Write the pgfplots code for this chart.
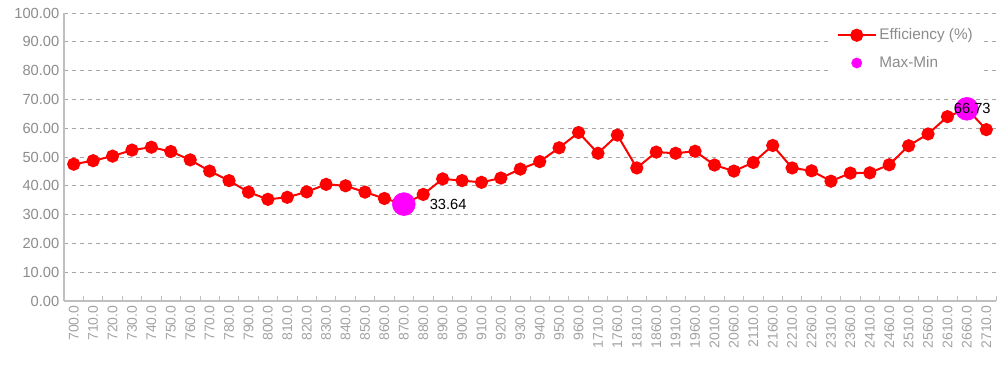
\documentclass[border=0pt]{standalone}
\usepackage{pgfplots}
\pgfplotsset{compat=1.18}
\usepackage{pgfplotstable}
\usepackage{fontspec}
\setmainfont{Liberation Sans}
\definecolor{effred}{HTML}{FF0000}
\definecolor{mm}{HTML}{FF00FF}
\definecolor{tickgray}{HTML}{8C8C8C}
\definecolor{gridgray}{HTML}{A6A6A6}
\definecolor{axgray}{HTML}{BFBFBF}
\pgfplotstableread{
x y
0 47.5
1 48.7
2 50.3
3 52.4
4 53.4
5 51.9
6 49.0
7 45.1
8 41.8
9 37.8
10 35.3
11 36.0
12 37.9
13 40.5
14 40.0
15 37.8
16 35.6
17 33.64
18 37.0
19 42.4
20 41.8
21 41.2
22 42.7
23 45.8
24 48.4
25 53.2
26 58.5
27 51.3
28 57.6
29 46.2
30 51.7
31 51.3
32 52.0
33 47.2
34 45.1
35 48.1
36 54.0
37 46.2
38 45.2
39 41.6
40 44.4
41 44.5
42 47.3
43 53.9
44 58.0
45 64.0
46 66.73
47 59.5
}\eff
\begin{document}
\begin{tikzpicture}
\begin{axis}[
  name=ax,
  scale only axis,
  width=699pt, height=216pt,
  xmin=-0.5, xmax=47.5,
  ymin=0, ymax=100,
  ytick={0,10,...,100},
  xtick={0,...,47},
  xticklabels={700.0,710.0,720.0,730.0,740.0,750.0,760.0,770.0,780.0,790.0,800.0,810.0,820.0,830.0,840.0,850.0,860.0,870.0,880.0,890.0,900.0,910.0,920.0,930.0,940.0,950.0,960.0,1710.0,1760.0,1810.0,1860.0,1910.0,1960.0,2010.0,2060.0,2110.0,2160.0,2210.0,2260.0,2310.0,2360.0,2410.0,2460.0,2510.0,2560.0,2610.0,2660.0,2710.0},
  minor xtick={-0.5,0.5,...,47.5},
  major tick length=0pt,
  minor tick length=3.5pt,
  tick align=inside,
  minor tick style={axgray, line width=0.6pt},
  axis x line*=bottom,
  axis y line*=left,
  axis line style={axgray, line width=0.8pt, -},
  ymajorgrids,
  major grid style={gridgray, dashed, line width=0.5pt},
  x tick label style={rotate=90, anchor=east, font=\fontsize{10.5}{12}\selectfont, text=tickgray!80},
  y tick label style={font=\fontsize{11}{13}\selectfont, text=tickgray, /pgf/number format/.cd, fixed, fixed zerofill, precision=2},
  /pgf/number format/assume math mode=true,
  clip=false,
  legend style={at={(rel axis cs:0.984,0.965)}, anchor=north east, draw=none, fill=white, font=\fontsize{11.5}{13}\selectfont, text=tickgray, row sep=7pt, inner xsep=4pt},
  legend cell align=left,
]
\addplot[effred, line width=1.5pt, mark=*, mark size=4.2pt, mark options={fill=effred, draw=effred},
  legend image code/.code={\draw[effred, line width=1.5pt] (0cm,0cm) -- (1cm,0cm); \fill[effred] (0.5cm,0cm) circle (4.2pt);}
] table[x=x,y=y]{\eff};
\addlegendentry{Efficiency (\%)}
\addplot[only marks, mark=*, mark size=8.6pt, mark options={fill=mm, draw=mm},
  nodes near coords, point meta=explicit symbolic,
  visualization depends on={value \thisrow{anc} \as \anc},
  visualization depends on={value \thisrow{dx} \as \dx},
  every node near coord/.append style={font=\fontsize{11}{13}\selectfont, text=black, anchor=\anc, xshift=\dx pt, yshift=0pt},
  legend image code/.code={\fill[mm] (0.5cm,0cm) circle (3.8pt);}
] table[x=x, y=y, meta=lab]{
x y lab anc dx
17 33.64 33.64 west 16
46 66.73 66.73 center 4
};
\addlegendentry{Max-Min}
\end{axis}
\path (ax.south west) ++(-48pt,-51pt) coordinate (bl);
\path (ax.north east) ++(3pt,9.75pt) coordinate (tr);
\path (bl) rectangle (tr);
\end{tikzpicture}
\end{document}
